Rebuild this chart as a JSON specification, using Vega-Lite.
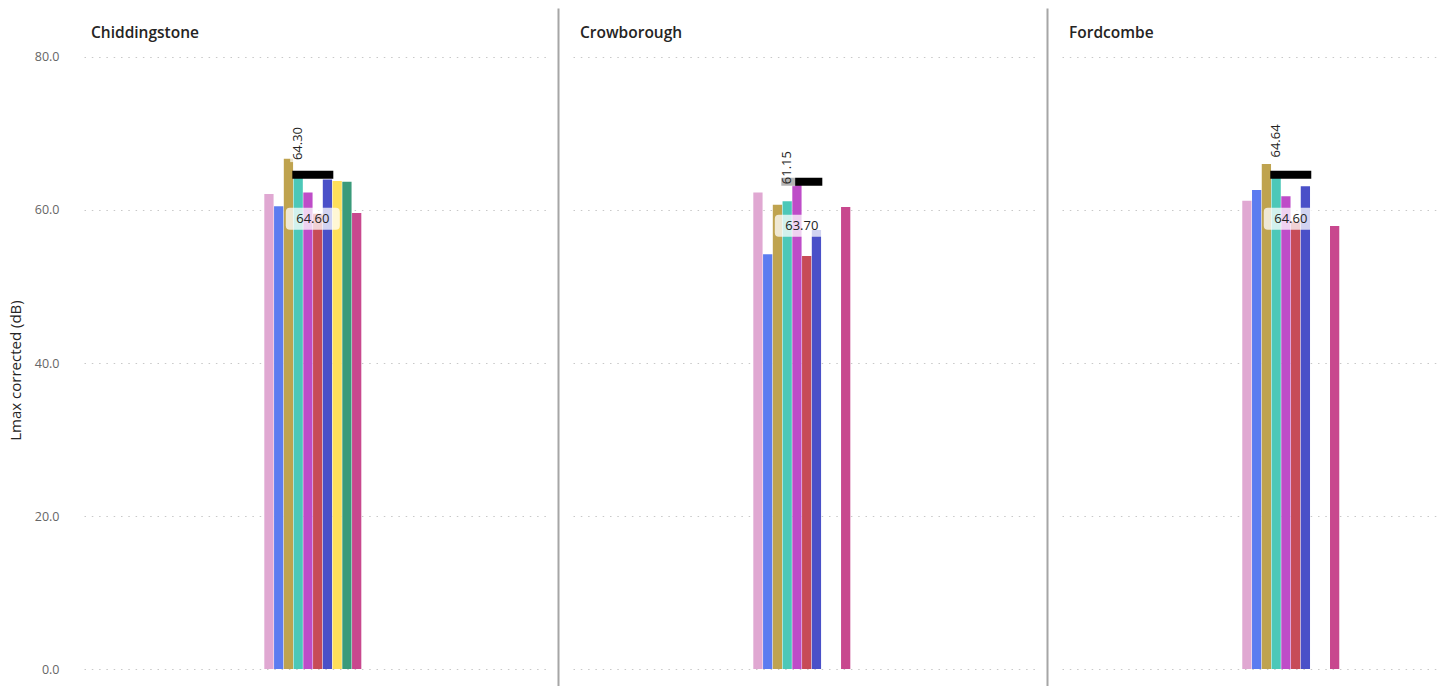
{
  "$schema": "https://vega.github.io/schema/vega-lite/v6.json",
  "padding": {"left": 8, "top": 8, "right": 0, "bottom": 0},
  "background": "white",
  "spacing": 12,
  "datasets": {
    "bars": [
      {"site": "Chiddingstone", "period": "All", "series": "S01", "value": 62.1},
      {"site": "Chiddingstone", "period": "All", "series": "S02", "value": 60.5},
      {"site": "Chiddingstone", "period": "All", "series": "S03", "value": 66.7},
      {"site": "Chiddingstone", "period": "All", "series": "S04", "value": 64.30},
      {"site": "Chiddingstone", "period": "All", "series": "S05", "value": 62.3},
      {"site": "Chiddingstone", "period": "All", "series": "S06", "value": 59.5},
      {"site": "Chiddingstone", "period": "All", "series": "S07", "value": 64.0},
      {"site": "Chiddingstone", "period": "All", "series": "S08", "value": 63.8},
      {"site": "Chiddingstone", "period": "All", "series": "S09", "value": 63.7},
      {"site": "Chiddingstone", "period": "All", "series": "S10", "value": 59.6},
      {"site": "Crowborough", "period": "All", "series": "S01", "value": 62.3},
      {"site": "Crowborough", "period": "All", "series": "S02", "value": 54.2},
      {"site": "Crowborough", "period": "All", "series": "S03", "value": 60.7},
      {"site": "Crowborough", "period": "All", "series": "S04", "value": 61.15},
      {"site": "Crowborough", "period": "All", "series": "S05", "value": 63.3},
      {"site": "Crowborough", "period": "All", "series": "S06", "value": 54.0},
      {"site": "Crowborough", "period": "All", "series": "S07", "value": 57.4},
      {"site": "Crowborough", "period": "All", "series": "S10", "value": 60.4},
      {"site": "Fordcombe", "period": "All", "series": "S01", "value": 61.2},
      {"site": "Fordcombe", "period": "All", "series": "S02", "value": 62.6},
      {"site": "Fordcombe", "period": "All", "series": "S03", "value": 66.0},
      {"site": "Fordcombe", "period": "All", "series": "S04", "value": 64.64},
      {"site": "Fordcombe", "period": "All", "series": "S05", "value": 61.8},
      {"site": "Fordcombe", "period": "All", "series": "S06", "value": 58.5},
      {"site": "Fordcombe", "period": "All", "series": "S07", "value": 63.1},
      {"site": "Fordcombe", "period": "All", "series": "S10", "value": 57.9}
    ],
    "avg": [
      {"site": "Chiddingstone", "period": "All", "value": 64.60},
      {"site": "Crowborough", "period": "All", "value": 63.70},
      {"site": "Fordcombe", "period": "All", "value": 64.60}
    ]
  },
  "config": {
    "view": {"stroke": null},
    "font": "Open Sans",
    "axis": {
      "gridColor": "#c8c8c8",
      "gridDash": [1.5, 5.8],
      "gridWidth": 1,
      "labelColor": "#666666",
      "labelFontSize": 12.5,
      "labelFont": "Open Sans",
      "titleFontSize": 15,
      "titleFontWeight": "normal",
      "titleColor": "#252423",
      "titleFont": "Open Sans"
    }
  },
  "hconcat": [
    {
      "width": 462,
      "height": 678,
      "title": {"text": "Chiddingstone", "anchor": "start", "frame": "group", "offset": -33, "dx": 7, "fontSize": 15.5, "fontWeight": 600, "color": "#252423", "font": "Open Sans"},
      "layer": [
        {
          "data": {"name": "bars"},
          "transform": [{"filter": "datum.site === 'Chiddingstone'"}],
          "mark": {"type": "bar"},
          "encoding": {
            "x": {"field": "period", "type": "nominal", "axis": null, "scale": {"paddingInner": 0.4685, "paddingOuter": 1, "align": 0.494}},
            "xOffset": {"field": "series", "type": "nominal", "scale": {"domain": ["S01","S02","S03","S04","S05","S06","S07","S08","S09","S10"], "paddingInner": 0.05, "paddingOuter": 0}},
            "y": {"field": "value", "type": "quantitative", "scale": {"domain": [-2.222, 86.405], "nice": false, "zero": false},
              "axis": {"values": [0, 20, 40, 60, 80], "format": ".1f", "title": "Lmax corrected (dB)", "domain": false, "ticks": false, "labelPadding": 25, "titlePadding": 11, "grid": true, "titleY": 362}},
            "color": {"field": "series", "type": "nominal", "legend": null,
              "scale": {"domain": ["S01","S02","S03","S04","S05","S06","S07","S08","S09","S10"],
                "range": ["#E0A8D2","#5C7CF0","#BFA34F","#4CC8B8","#BE4CC8","#C74B58","#4A50C8","#FEDE5A","#3A9A7A","#C8488E"]}}
          }
        },
        {
          "data": {"name": "avg"},
          "transform": [{"filter": "datum.site === 'Chiddingstone'"}],
          "mark": {"type": "tick", "orient": "horizontal", "thickness": 8, "size": 41, "color": "#000000", "opacity": 1},
          "encoding": {
            "x": {"field": "period", "type": "nominal"},
            "y": {"field": "value", "type": "quantitative"}
          }
        },
        {
          "data": {"name": "bars"},
          "transform": [{"filter": "datum.site === 'Chiddingstone' && datum.series === 'S04'"}],
          "mark": {"type": "point", "shape": "M-0.267,-0.5 L0.267,-0.5 L0.267,-1.833 L-0.267,-1.833 Z", "size": 3600, "filled": true, "color": "#ffffff", "opacity": 0.7, "strokeWidth": 0},
          "encoding": {
            "x": {"field": "period", "type": "nominal"},
            "xOffset": {"field": "series", "type": "nominal"},
            "y": {"field": "value", "type": "quantitative"}
          }
        },
        {
          "data": {"name": "avg"},
          "transform": [{"filter": "datum.site === 'Chiddingstone'"}],
          "mark": {"type": "point", "shape": "M-0.85,1.222 L0.85,1.222 Q1,1.222 1,1.372 L1,1.887 Q1,2.037 0.85,2.037 L-0.85,2.037 Q-1,2.037 -1,1.887 L-1,1.372 Q-1,1.222 -0.85,1.222 Z", "size": 2916, "filled": true, "color": "#ffffff", "opacity": 0.75, "strokeWidth": 0},
          "encoding": {
            "x": {"field": "period", "type": "nominal"},
            "y": {"field": "value", "type": "quantitative"}
          }
        },
        {
          "data": {"name": "bars"},
          "transform": [{"filter": "datum.site === 'Chiddingstone' && datum.series === 'S04'"}],
          "mark": {"type": "text", "angle": 270, "align": "left", "baseline": "middle", "dx": 17, "fontSize": 13, "color": "#252423", "font": "Open Sans"},
          "encoding": {
            "x": {"field": "period", "type": "nominal"},
            "xOffset": {"field": "series", "type": "nominal"},
            "y": {"field": "value", "type": "quantitative"},
            "text": {"field": "value", "type": "quantitative", "format": ".2f"}
          }
        },
        {
          "data": {"name": "avg"},
          "transform": [{"filter": "datum.site === 'Chiddingstone'"}],
          "mark": {"type": "text", "align": "center", "baseline": "middle", "dy": 44, "fontSize": 13, "color": "#252423", "font": "Open Sans"},
          "encoding": {
            "x": {"field": "period", "type": "nominal"},
            "y": {"field": "value", "type": "quantitative"},
            "text": {"field": "value", "type": "quantitative", "format": ".2f"}
          }
        }
      ]
    },
    {
      "width": 462,
      "height": 678,
      "title": {"text": "Crowborough", "anchor": "start", "frame": "group", "offset": -33, "dx": 7, "fontSize": 15.5, "fontWeight": 600, "color": "#252423", "font": "Open Sans"},
      "layer": [
        {
          "data": {"name": "bars"},
          "transform": [{"filter": "datum.site === 'Crowborough'"}],
          "mark": {"type": "bar"},
          "encoding": {
            "x": {"field": "period", "type": "nominal", "axis": null, "scale": {"paddingInner": 0.4685, "paddingOuter": 1, "align": 0.494}},
            "xOffset": {"field": "series", "type": "nominal", "scale": {"domain": ["S01","S02","S03","S04","S05","S06","S07","S08","S09","S10"], "paddingInner": 0.05, "paddingOuter": 0}},
            "y": {"field": "value", "type": "quantitative", "scale": {"domain": [-2.222, 86.405], "nice": false, "zero": false},
              "axis": {"values": [0, 20, 40, 60, 80], "labels": false, "ticks": false, "title": null, "domain": true, "domainColor": "#a6a6a6", "domainWidth": 2, "offset": 15, "grid": true}},
            "color": {"field": "series", "type": "nominal", "legend": null,
              "scale": {"domain": ["S01","S02","S03","S04","S05","S06","S07","S08","S09","S10"],
                "range": ["#E0A8D2","#5C7CF0","#BFA34F","#4CC8B8","#BE4CC8","#C74B58","#4A50C8","#FEDE5A","#3A9A7A","#C8488E"]}}
          }
        },
        {
          "data": {"name": "avg"},
          "transform": [{"filter": "datum.site === 'Crowborough'"}],
          "mark": {"type": "tick", "orient": "horizontal", "thickness": 8, "size": 41, "color": "#000000", "opacity": 1},
          "encoding": {
            "x": {"field": "period", "type": "nominal"},
            "y": {"field": "value", "type": "quantitative"}
          }
        },
        {
          "data": {"name": "bars"},
          "transform": [{"filter": "datum.site === 'Crowborough' && datum.series === 'S04'"}],
          "mark": {"type": "point", "shape": "M-0.267,-0.5 L0.267,-0.5 L0.267,-1.833 L-0.267,-1.833 Z", "size": 3600, "filled": true, "color": "#ffffff", "opacity": 0.7, "strokeWidth": 0},
          "encoding": {
            "x": {"field": "period", "type": "nominal"},
            "xOffset": {"field": "series", "type": "nominal"},
            "y": {"field": "value", "type": "quantitative"}
          }
        },
        {
          "data": {"name": "avg"},
          "transform": [{"filter": "datum.site === 'Crowborough'"}],
          "mark": {"type": "point", "shape": "M-0.85,1.222 L0.85,1.222 Q1,1.222 1,1.372 L1,1.887 Q1,2.037 0.85,2.037 L-0.85,2.037 Q-1,2.037 -1,1.887 L-1,1.372 Q-1,1.222 -0.85,1.222 Z", "size": 2916, "filled": true, "color": "#ffffff", "opacity": 0.75, "strokeWidth": 0},
          "encoding": {
            "x": {"field": "period", "type": "nominal"},
            "y": {"field": "value", "type": "quantitative"}
          }
        },
        {
          "data": {"name": "bars"},
          "transform": [{"filter": "datum.site === 'Crowborough' && datum.series === 'S04'"}],
          "mark": {"type": "text", "angle": 270, "align": "left", "baseline": "middle", "dx": 17, "fontSize": 13, "color": "#252423", "font": "Open Sans"},
          "encoding": {
            "x": {"field": "period", "type": "nominal"},
            "xOffset": {"field": "series", "type": "nominal"},
            "y": {"field": "value", "type": "quantitative"},
            "text": {"field": "value", "type": "quantitative", "format": ".2f"}
          }
        },
        {
          "data": {"name": "avg"},
          "transform": [{"filter": "datum.site === 'Crowborough'"}],
          "mark": {"type": "text", "align": "center", "baseline": "middle", "dy": 44, "fontSize": 13, "color": "#252423", "font": "Open Sans"},
          "encoding": {
            "x": {"field": "period", "type": "nominal"},
            "y": {"field": "value", "type": "quantitative"},
            "text": {"field": "value", "type": "quantitative", "format": ".2f"}
          }
        }
      ]
    },
    {
      "width": 380,
      "height": 678,
      "title": {"text": "Fordcombe", "anchor": "start", "frame": "group", "offset": -33, "dx": 7, "fontSize": 15.5, "fontWeight": 600, "color": "#252423", "font": "Open Sans"},
      "layer": [
        {
          "data": {"name": "bars"},
          "transform": [{"filter": "datum.site === 'Fordcombe'"}],
          "mark": {"type": "bar"},
          "encoding": {
            "x": {"field": "period", "type": "nominal", "axis": null, "scale": {"paddingInner": 0.3145, "paddingOuter": 1, "align": 0.637}},
            "xOffset": {"field": "series", "type": "nominal", "scale": {"domain": ["S01","S02","S03","S04","S05","S06","S07","S08","S09","S10"], "paddingInner": 0.05, "paddingOuter": 0}},
            "y": {"field": "value", "type": "quantitative", "scale": {"domain": [-2.222, 86.405], "nice": false, "zero": false},
              "axis": {"values": [0, 20, 40, 60, 80], "labels": false, "ticks": false, "title": null, "domain": true, "domainColor": "#a6a6a6", "domainWidth": 2, "offset": 15, "grid": true}},
            "color": {"field": "series", "type": "nominal", "legend": null,
              "scale": {"domain": ["S01","S02","S03","S04","S05","S06","S07","S08","S09","S10"],
                "range": ["#E0A8D2","#5C7CF0","#BFA34F","#4CC8B8","#BE4CC8","#C74B58","#4A50C8","#FEDE5A","#3A9A7A","#C8488E"]}}
          }
        },
        {
          "data": {"name": "avg"},
          "transform": [{"filter": "datum.site === 'Fordcombe'"}],
          "mark": {"type": "tick", "orient": "horizontal", "thickness": 8, "size": 41, "color": "#000000", "opacity": 1},
          "encoding": {
            "x": {"field": "period", "type": "nominal"},
            "y": {"field": "value", "type": "quantitative"}
          }
        },
        {
          "data": {"name": "bars"},
          "transform": [{"filter": "datum.site === 'Fordcombe' && datum.series === 'S04'"}],
          "mark": {"type": "point", "shape": "M-0.267,-0.5 L0.267,-0.5 L0.267,-1.833 L-0.267,-1.833 Z", "size": 3600, "filled": true, "color": "#ffffff", "opacity": 0.7, "strokeWidth": 0},
          "encoding": {
            "x": {"field": "period", "type": "nominal"},
            "xOffset": {"field": "series", "type": "nominal"},
            "y": {"field": "value", "type": "quantitative"}
          }
        },
        {
          "data": {"name": "avg"},
          "transform": [{"filter": "datum.site === 'Fordcombe'"}],
          "mark": {"type": "point", "shape": "M-0.85,1.222 L0.85,1.222 Q1,1.222 1,1.372 L1,1.887 Q1,2.037 0.85,2.037 L-0.85,2.037 Q-1,2.037 -1,1.887 L-1,1.372 Q-1,1.222 -0.85,1.222 Z", "size": 2916, "filled": true, "color": "#ffffff", "opacity": 0.75, "strokeWidth": 0},
          "encoding": {
            "x": {"field": "period", "type": "nominal"},
            "y": {"field": "value", "type": "quantitative"}
          }
        },
        {
          "data": {"name": "bars"},
          "transform": [{"filter": "datum.site === 'Fordcombe' && datum.series === 'S04'"}],
          "mark": {"type": "text", "angle": 270, "align": "left", "baseline": "middle", "dx": 17, "fontSize": 13, "color": "#252423", "font": "Open Sans"},
          "encoding": {
            "x": {"field": "period", "type": "nominal"},
            "xOffset": {"field": "series", "type": "nominal"},
            "y": {"field": "value", "type": "quantitative"},
            "text": {"field": "value", "type": "quantitative", "format": ".2f"}
          }
        },
        {
          "data": {"name": "avg"},
          "transform": [{"filter": "datum.site === 'Fordcombe'"}],
          "mark": {"type": "text", "align": "center", "baseline": "middle", "dy": 44, "fontSize": 13, "color": "#252423", "font": "Open Sans"},
          "encoding": {
            "x": {"field": "period", "type": "nominal"},
            "y": {"field": "value", "type": "quantitative"},
            "text": {"field": "value", "type": "quantitative", "format": ".2f"}
          }
        }
      ]
    }
  ]
}
